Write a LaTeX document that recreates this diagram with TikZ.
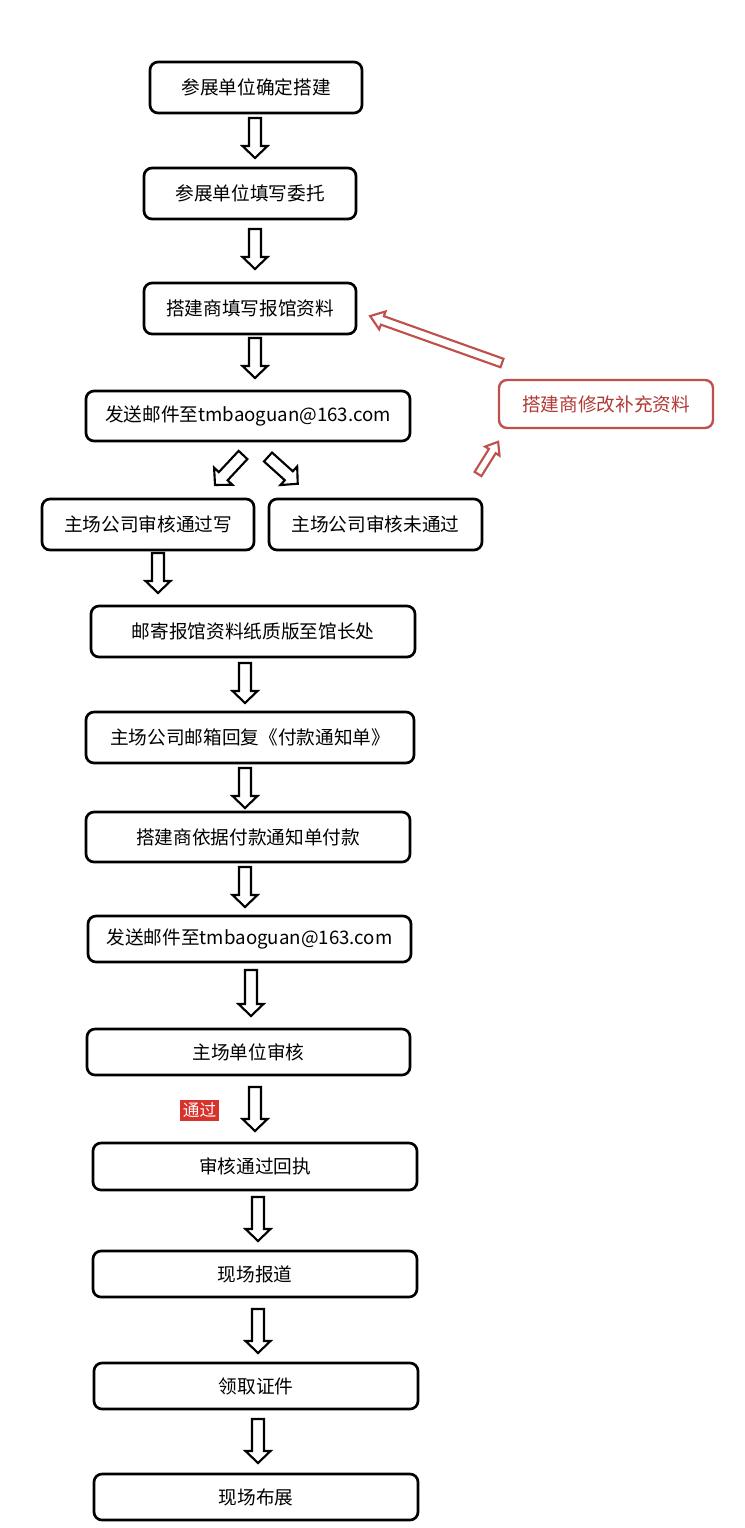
\documentclass[tikz,border=0pt]{standalone}
\usepackage{fontspec}
\setmainfont{Noto Sans CJK SC}
\newfontfamily\cjk{Noto Sans CJK SC}
\definecolor{redline}{HTML}{C0504D}
\definecolor{redtext}{HTML}{B23A36}
\definecolor{redfill}{HTML}{D7332C}
\def\px{0.75pt}
\tikzset{
  box/.style={draw=black, line width=2pt, rounded corners=6pt, fill=white,
    font=\cjk\fontsize{14}{16}\selectfont, inner sep=0pt, align=center},
  redbox/.style={box, draw=redline, text=redtext, line width=1.8pt},
}
% hollow block arrow: x, y, angle, length, shaft half-width, head half-width, head length, colour
\newcommand\barrow[8]{%
  \begin{scope}[shift={(#1,#2)}, rotate=#3]
    \draw[#8, line width=1.6pt, fill=white, line join=miter]
      (0,-#5) -- ({#4-#7},-#5) -- ({#4-#7},-#6) -- (#4,0) -- ({#4-#7},#6) -- ({#4-#7},#5) -- (0,#5) -- cycle;
  \end{scope}}
\begin{document}
\begin{tikzpicture}[x=0.75pt, y=-0.75pt]
\useasboundingbox (0,0) rectangle (744,1528);
\fill[white] (0,0) rectangle (744,1528);

\node[box, minimum width=212*\px, minimum height=51*\px] (b1) at (256,87.5) {参展单位确定搭建};
\node[box, minimum width=212*\px, minimum height=51*\px] (b2) at (250,193.5) {参展单位填写委托};
\node[box, minimum width=212*\px, minimum height=51*\px] (b3) at (250,308.5) {搭建商填写报馆资料};
\node[box, minimum width=324*\px, minimum height=50*\px] (b4) at (248,416) {发送邮件至tmbaoguan@163.com};
\node[box, minimum width=212*\px, minimum height=51*\px] (b5) at (148,524.5) {主场公司审核通过写};
\node[box, minimum width=213*\px, minimum height=51*\px] (b6) at (375.5,524.5) {主场公司审核未通过};
\node[box, minimum width=324*\px, minimum height=51*\px] (b7) at (253,631.5) {邮寄报馆资料纸质版至馆长处};
\node[box, minimum width=328*\px, minimum height=51*\px] (b8) at (250,737.5) {主场公司邮箱回复《付款通知单》};
\node[box, minimum width=324*\px, minimum height=50*\px] (b9) at (248,837) {搭建商依据付款通知单付款};
\node[box, minimum width=323*\px, minimum height=46*\px] (b10) at (249.5,939) {发送邮件至tmbaoguan@163.com};
\node[box, minimum width=323*\px, minimum height=46*\px] (b11) at (248.5,1052) {主场单位审核};
\node[box, minimum width=324*\px, minimum height=47*\px] (b12) at (255,1166.5) {审核通过回执};
\node[box, minimum width=324*\px, minimum height=46*\px] (b13) at (255,1274) {现场报道};
\node[box, minimum width=324*\px, minimum height=46*\px] (b14) at (256,1386) {领取证件};
\node[box, minimum width=324*\px, minimum height=46*\px] (b15) at (256,1497) {现场布展};

\node[redbox, minimum width=214*\px, minimum height=48*\px] (r) at (606,404) {搭建商修改补充资料};

% black hollow arrows
\barrow{255}{118}{-90}{40}{6}{12.5}{12}{black}
\barrow{255}{229}{-90}{40}{6}{12.5}{12}{black}
\barrow{255}{338}{-90}{40}{6}{12.5}{12}{black}
\barrow{243}{455}{-133}{41}{6}{12.5}{12}{black}
\barrow{268}{457}{-42}{40}{6}{12.5}{12}{black}
\barrow{158}{553}{-90}{40}{6}{12.5}{12}{black}
\barrow{245}{663}{-90}{40}{6}{12.5}{12}{black}
\barrow{245}{768}{-90}{40}{6}{12.5}{12}{black}
\barrow{245}{867}{-90}{40}{6}{12.5}{12}{black}
\barrow{251}{970}{-90}{46}{6}{12.5}{12}{black}
\barrow{255}{1087}{-90}{44}{6}{12.5}{12}{black}
\barrow{258}{1197}{-90}{44}{6}{12.5}{12}{black}
\barrow{258}{1309}{-90}{44}{6}{12.5}{12}{black}
\barrow{258}{1419}{-90}{44}{6}{12.5}{12}{black}

% red hollow arrows
\barrow{502}{363}{160.4}{140}{4.5}{9.5}{13}{redline}
\barrow{478}{474}{58}{38}{4}{8.5}{11}{redline}

% label
\node[fill=redfill, text=white!90!pink, font=\cjk\fontsize{12.5}{14}\selectfont, inner xsep=1pt, inner ysep=1pt, minimum width=39*\px, minimum height=21*\px] (pass) at (199.5,1110.5) {通过};
\end{tikzpicture}
\end{document}
